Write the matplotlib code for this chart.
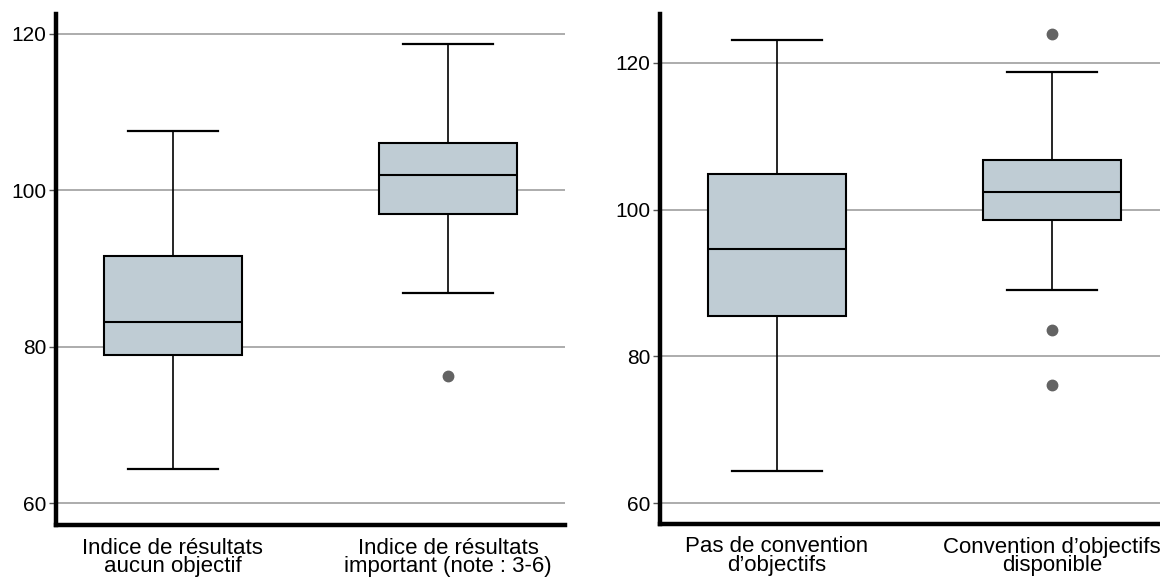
import matplotlib
matplotlib.use("Agg")
import matplotlib.pyplot as plt

plt.rcParams['font.family'] = ['Liberation Sans', 'DejaVu Sans']

# Left panel: results index groups
left_labels = ["Indice de résultats\naucun objectif", "Indice de résultats\nimportant (note : 3-6)"]
left_whislo = [64.4, 86.9]
left_q1 = [79.0, 97.0]
left_med = [83.2, 101.9]
left_q3 = [91.6, 106.0]
left_whishi = [107.6, 118.7]
left_fliers = [[], [76.2]]

# Right panel: objectives agreement groups
right_labels = ["Pas de convention\nd\u2019objectifs", "Convention d\u2019objectifs\ndisponible"]
right_whislo = [64.3, 89.0]
right_q1 = [85.5, 98.6]
right_med = [94.6, 102.4]
right_q3 = [104.9, 106.8]
right_whishi = [123.1, 118.8]
right_fliers = [[], [124.0, 83.6, 76.1]]

yticks = [60, 80, 100, 120]

BOX_FILL = "#bfccd4"
FLIER = "#636363"
GRID = "#a6a6a6"


def make_stats(labels, wlo, q1, med, q3, whi, fl):
    return [dict(label=l, whislo=a, q1=b, med=c, q3=d, whishi=e, fliers=f)
            for l, a, b, c, d, e, f in zip(labels, wlo, q1, med, q3, whi, fl)]


def draw(ax, stats, ylim):
    ax.bxp(stats, positions=[1, 2], widths=0.5, patch_artist=True,
           showfliers=True, capwidths=0.33,
           boxprops=dict(facecolor=BOX_FILL, edgecolor="black", linewidth=1.5),
           medianprops=dict(color="black", linewidth=1.5),
           whiskerprops=dict(color="black", linewidth=1.2),
           capprops=dict(color="black", linewidth=1.6),
           flierprops=dict(marker="o", markersize=7.5, markerfacecolor=FLIER,
                           markeredgecolor=FLIER, linestyle="none"))
    ax.set_xlim(0.575, 2.425)
    ax.set_ylim(*ylim)
    ax.set_yticks(yticks)
    ax.yaxis.grid(True, color=GRID, linewidth=1.3)
    ax.set_axisbelow(True)
    for s in ("top", "right"):
        ax.spines[s].set_visible(False)
    for s in ("left", "bottom"):
        ax.spines[s].set_linewidth(3.2)
        ax.spines[s].set_color("black")
    ax.tick_params(axis="y", length=5, width=1, color="#555555", labelsize=15, pad=2)
    ax.tick_params(axis="x", length=0, labelsize=16, pad=9)
    for t in ax.get_xticklabels():
        t.set_linespacing(0.86)


fig = plt.figure(figsize=(11.6, 5.77), dpi=100)
ax1 = fig.add_axes([56 / 1160, 52 / 577, 509 / 1160, 511 / 577])
ax2 = fig.add_axes([660 / 1160, 53 / 577, 509 / 1160, 510 / 577])

draw(ax1, make_stats(left_labels, left_whislo, left_q1, left_med, left_q3, left_whishi, left_fliers),
     (57.2, 122.55))
draw(ax2, make_stats(right_labels, right_whislo, right_q1, right_med, right_q3, right_whishi, right_fliers),
     (57.14, 126.68))

fig.savefig("out.png", dpi=100)
